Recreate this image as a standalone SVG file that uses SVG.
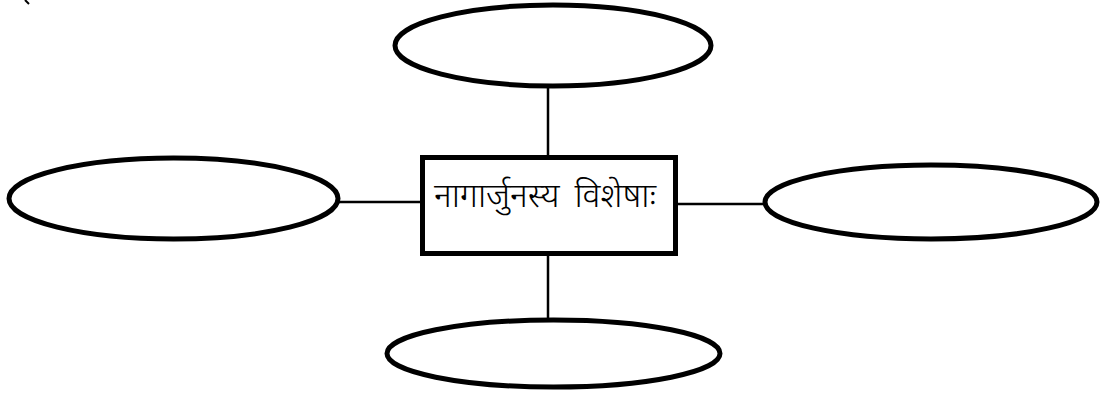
<svg xmlns="http://www.w3.org/2000/svg" width="1113" height="394" viewBox="0 0 1113 394">
<style>
.node{fill:#fff;stroke:#000;stroke-width:5}
.conn{stroke:#000;stroke-width:2.5;fill:none}
.lbl{font-family:"Noto Sans Devanagari","Noto Sans","Lohit Devanagari",sans-serif;font-size:34px;font-weight:300;word-spacing:6px;fill:#000}
</style>
<rect width="1113" height="394" fill="#fff"/>
<line x1="25" y1="0" x2="29" y2="4" stroke="#000" stroke-width="2"/>
<g id="connectors">
<line class="conn" x1="548" y1="86" x2="548" y2="157"/>
<line class="conn" x1="548" y1="254" x2="548" y2="320"/>
<line class="conn" x1="338" y1="202" x2="422" y2="202"/>
<line class="conn" x1="676" y1="204" x2="765" y2="204"/>
</g>
<g id="center">
<rect class="node" x="422.5" y="157.5" width="253" height="96"/>
<text class="lbl" x="545" y="207" text-anchor="middle">नागार्जुनस्य विशेषाः</text>
</g>
<g id="top"><ellipse class="node" cx="553" cy="45.5" rx="158" ry="40.5"/></g>
<g id="left"><ellipse class="node" cx="173.5" cy="198.5" rx="164.5" ry="40.5"/></g>
<g id="right"><ellipse class="node" cx="931" cy="202" rx="166" ry="37"/></g>
<g id="bottom"><ellipse class="node" cx="553.5" cy="353.5" rx="166.5" ry="33.5"/></g>
</svg>
